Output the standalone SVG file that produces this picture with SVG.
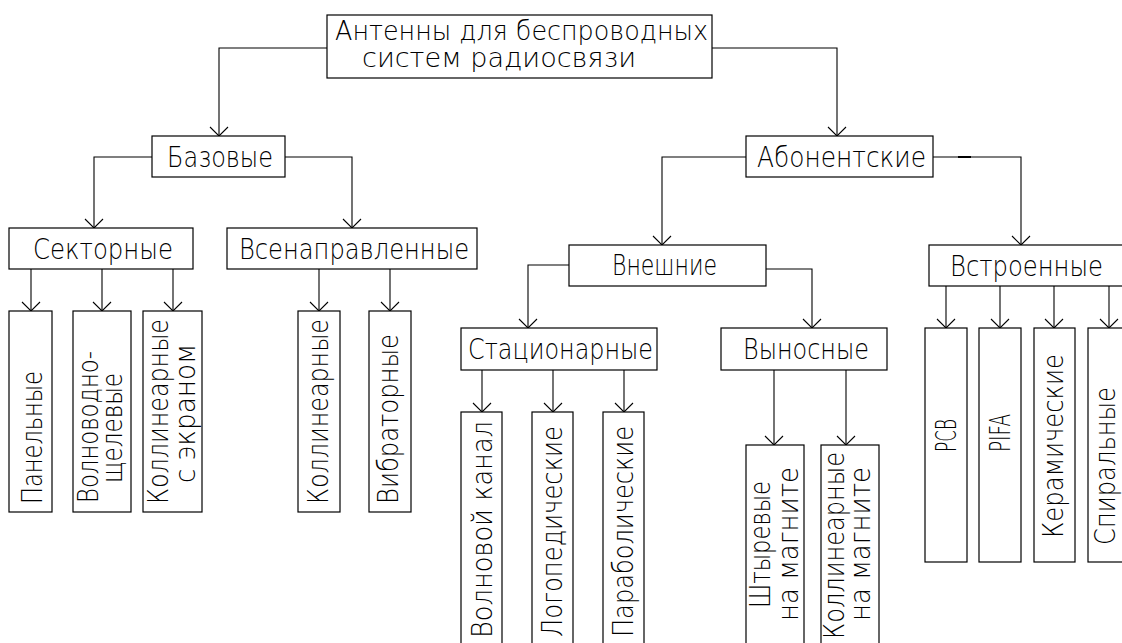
<svg xmlns="http://www.w3.org/2000/svg" width="1122" height="643" viewBox="0 0 1122 643">
<style>
.box{fill:#fff;stroke:#000;stroke-width:1.2}
.ln{fill:none;stroke:#000;stroke-width:1.1}
.t{font-family:"DejaVu Sans","Liberation Sans",sans-serif;font-size:28px;font-weight:200;fill:#000}
.s{font-size:26px}
</style>
<defs>
<marker id="arr" markerUnits="userSpaceOnUse" markerWidth="20" markerHeight="20" refX="0" refY="0" orient="auto" overflow="visible">
<path d="M-9,-9 L0,0 L-9,9" fill="none" stroke="#000" stroke-width="1.1"/>
</marker>
</defs>
<rect width="1122" height="643" fill="#fff"/>
<g id="connectors">
<path class="ln" d="M327,48 H219 V136" marker-end="url(#arr)"/>
<path class="ln" d="M712,48 H837 V136" marker-end="url(#arr)"/>
<path class="ln" d="M152,157 H94 V228" marker-end="url(#arr)"/>
<path class="ln" d="M285,157 H352 V228" marker-end="url(#arr)"/>
<path class="ln" d="M746,157 H662 V245" marker-end="url(#arr)"/>
<path class="ln" d="M933,157 H1021 V245" marker-end="url(#arr)"/>
<path class="ln" d="M958,157 H971" style="stroke-width:2"/>
<path class="ln" d="M31,269 V311" marker-end="url(#arr)"/>
<path class="ln" d="M102,269 V311" marker-end="url(#arr)"/>
<path class="ln" d="M173,269 V311" marker-end="url(#arr)"/>
<path class="ln" d="M319,269 V311" marker-end="url(#arr)"/>
<path class="ln" d="M390,269 V311" marker-end="url(#arr)"/>
<path class="ln" d="M569,265 H528 V328" marker-end="url(#arr)"/>
<path class="ln" d="M766,269 H812 V328" marker-end="url(#arr)"/>
<path class="ln" d="M482,370 V412" marker-end="url(#arr)"/>
<path class="ln" d="M553,370 V412" marker-end="url(#arr)"/>
<path class="ln" d="M624,370 V412" marker-end="url(#arr)"/>
<path class="ln" d="M774,370 V445" marker-end="url(#arr)"/>
<path class="ln" d="M846,370 V445" marker-end="url(#arr)"/>
<path class="ln" d="M946,286 V328" marker-end="url(#arr)"/>
<path class="ln" d="M1000,286 V328" marker-end="url(#arr)"/>
<path class="ln" d="M1054,286 V328" marker-end="url(#arr)"/>
<path class="ln" d="M1109,286 V328" marker-end="url(#arr)"/>
</g>
<g id="root">
<rect class="box" x="327" y="15" width="385" height="63"/>
<text class="t s" x="335" y="40" textLength="373" lengthAdjust="spacingAndGlyphs">Антенны для беспроводных</text>
<text class="t s" x="362" y="67" textLength="274" lengthAdjust="spacingAndGlyphs">систем радиосвязи</text>
</g>
<g id="bazovye">
<rect class="box" x="152" y="136" width="133" height="41"/>
<text class="t" x="167" y="167" textLength="106" lengthAdjust="spacingAndGlyphs">Базовые</text>
</g>
<g id="abonentskie">
<rect class="box" x="746" y="136" width="187" height="41"/>
<text class="t" x="757" y="167" textLength="169" lengthAdjust="spacingAndGlyphs">Абонентские</text>
</g>
<g id="sektornye">
<rect class="box" x="9" y="228" width="184" height="41"/>
<text class="t" x="33" y="259" textLength="140" lengthAdjust="spacingAndGlyphs">Секторные</text>
</g>
<g id="vsenapravlennye">
<rect class="box" x="227" y="228" width="250" height="41"/>
<text class="t" x="239" y="259" textLength="230" lengthAdjust="spacingAndGlyphs">Всенаправленные</text>
</g>
<g id="panelnye">
<rect class="box" x="9" y="311" width="43" height="201"/>
<text class="t" transform="translate(42,504) rotate(-90)" textLength="133" lengthAdjust="spacingAndGlyphs">Панельные</text>
</g>
<g id="volnovodno">
<rect class="box" x="73" y="311" width="58" height="201"/>
<text class="t" transform="translate(98,503) rotate(-90)" textLength="152" lengthAdjust="spacingAndGlyphs">Волноводно-</text>
<text class="t" transform="translate(122,483) rotate(-90)" textLength="110" lengthAdjust="spacingAndGlyphs">щелевые</text>
</g>
<g id="kollinearnye-ekran">
<rect class="box" x="143" y="311" width="59" height="201"/>
<text class="t" transform="translate(168,504) rotate(-90)" textLength="185" lengthAdjust="spacingAndGlyphs">Коллинеарные</text>
<text class="t" transform="translate(195,483) rotate(-90)" textLength="139" lengthAdjust="spacingAndGlyphs">с экраном</text>
</g>
<g id="kollinearnye">
<rect class="box" x="298" y="311" width="42" height="201"/>
<text class="t" transform="translate(328,504) rotate(-90)" textLength="185" lengthAdjust="spacingAndGlyphs">Коллинеарные</text>
</g>
<g id="vibratornye">
<rect class="box" x="369" y="311" width="42" height="201"/>
<text class="t" transform="translate(398,504) rotate(-90)" textLength="170" lengthAdjust="spacingAndGlyphs">Вибраторные</text>
</g>
<g id="vneshnie">
<rect class="box" x="569" y="245" width="197" height="41"/>
<text class="t" x="612" y="275" textLength="105" lengthAdjust="spacingAndGlyphs">Внешние</text>
</g>
<g id="stacionarnye">
<rect class="box" x="461" y="328" width="196" height="42"/>
<text class="t" x="468" y="359" textLength="185" lengthAdjust="spacingAndGlyphs">Стационарные</text>
</g>
<g id="vynosnye">
<rect class="box" x="721" y="328" width="166" height="42"/>
<text class="t" x="743" y="359" textLength="126" lengthAdjust="spacingAndGlyphs">Выносные</text>
</g>
<g id="volnovoy-kanal">
<rect class="box" x="461" y="412" width="41" height="250"/>
<text class="t" transform="translate(492,638) rotate(-90)" textLength="217" lengthAdjust="spacingAndGlyphs">Волновой канал</text>
</g>
<g id="logopedicheskie">
<rect class="box" x="532" y="412" width="41" height="250"/>
<text class="t" transform="translate(562,637) rotate(-90)" textLength="211" lengthAdjust="spacingAndGlyphs">Логопедические</text>
</g>
<g id="parabolicheskie">
<rect class="box" x="603" y="412" width="41" height="250"/>
<text class="t" transform="translate(633,637) rotate(-90)" textLength="211" lengthAdjust="spacingAndGlyphs">Параболические</text>
</g>
<g id="shtyrevye">
<rect class="box" x="746" y="445" width="58" height="220"/>
<text class="t" transform="translate(770,608) rotate(-90)" textLength="127" lengthAdjust="spacingAndGlyphs">Штыревые</text>
<text class="t" transform="translate(798,621) rotate(-90)" textLength="154" lengthAdjust="spacingAndGlyphs">на магните</text>
</g>
<g id="kollinearnye-magnit">
<rect class="box" x="821" y="445" width="58" height="220"/>
<text class="t" transform="translate(844,639) rotate(-90)" textLength="187" lengthAdjust="spacingAndGlyphs">Коллинеарные</text>
<text class="t" transform="translate(870,621) rotate(-90)" textLength="154" lengthAdjust="spacingAndGlyphs">на магните</text>
</g>
<g id="vstroennye">
<rect class="box" x="929" y="245" width="194" height="41"/>
<text class="t" x="950" y="276" textLength="153" lengthAdjust="spacingAndGlyphs">Встроенные</text>
</g>
<g id="pcb">
<rect class="box" x="925" y="328" width="42" height="234"/>
<text class="t" transform="translate(956,452) rotate(-90)" textLength="33" lengthAdjust="spacingAndGlyphs">PCB</text>
</g>
<g id="pifa">
<rect class="box" x="979" y="328" width="42" height="234"/>
<text class="t" transform="translate(1010,452) rotate(-90)" textLength="38" lengthAdjust="spacingAndGlyphs">PIFA</text>
</g>
<g id="keramicheskie">
<rect class="box" x="1034" y="328" width="41" height="234"/>
<text class="t" transform="translate(1063,538) rotate(-90)" textLength="184" lengthAdjust="spacingAndGlyphs">Керамические</text>
</g>
<g id="spiralnye">
<rect class="box" x="1088" y="328" width="35" height="234"/>
<text class="t" transform="translate(1115,545) rotate(-90)" textLength="158" lengthAdjust="spacingAndGlyphs">Спиральные</text>
</g>
</svg>
